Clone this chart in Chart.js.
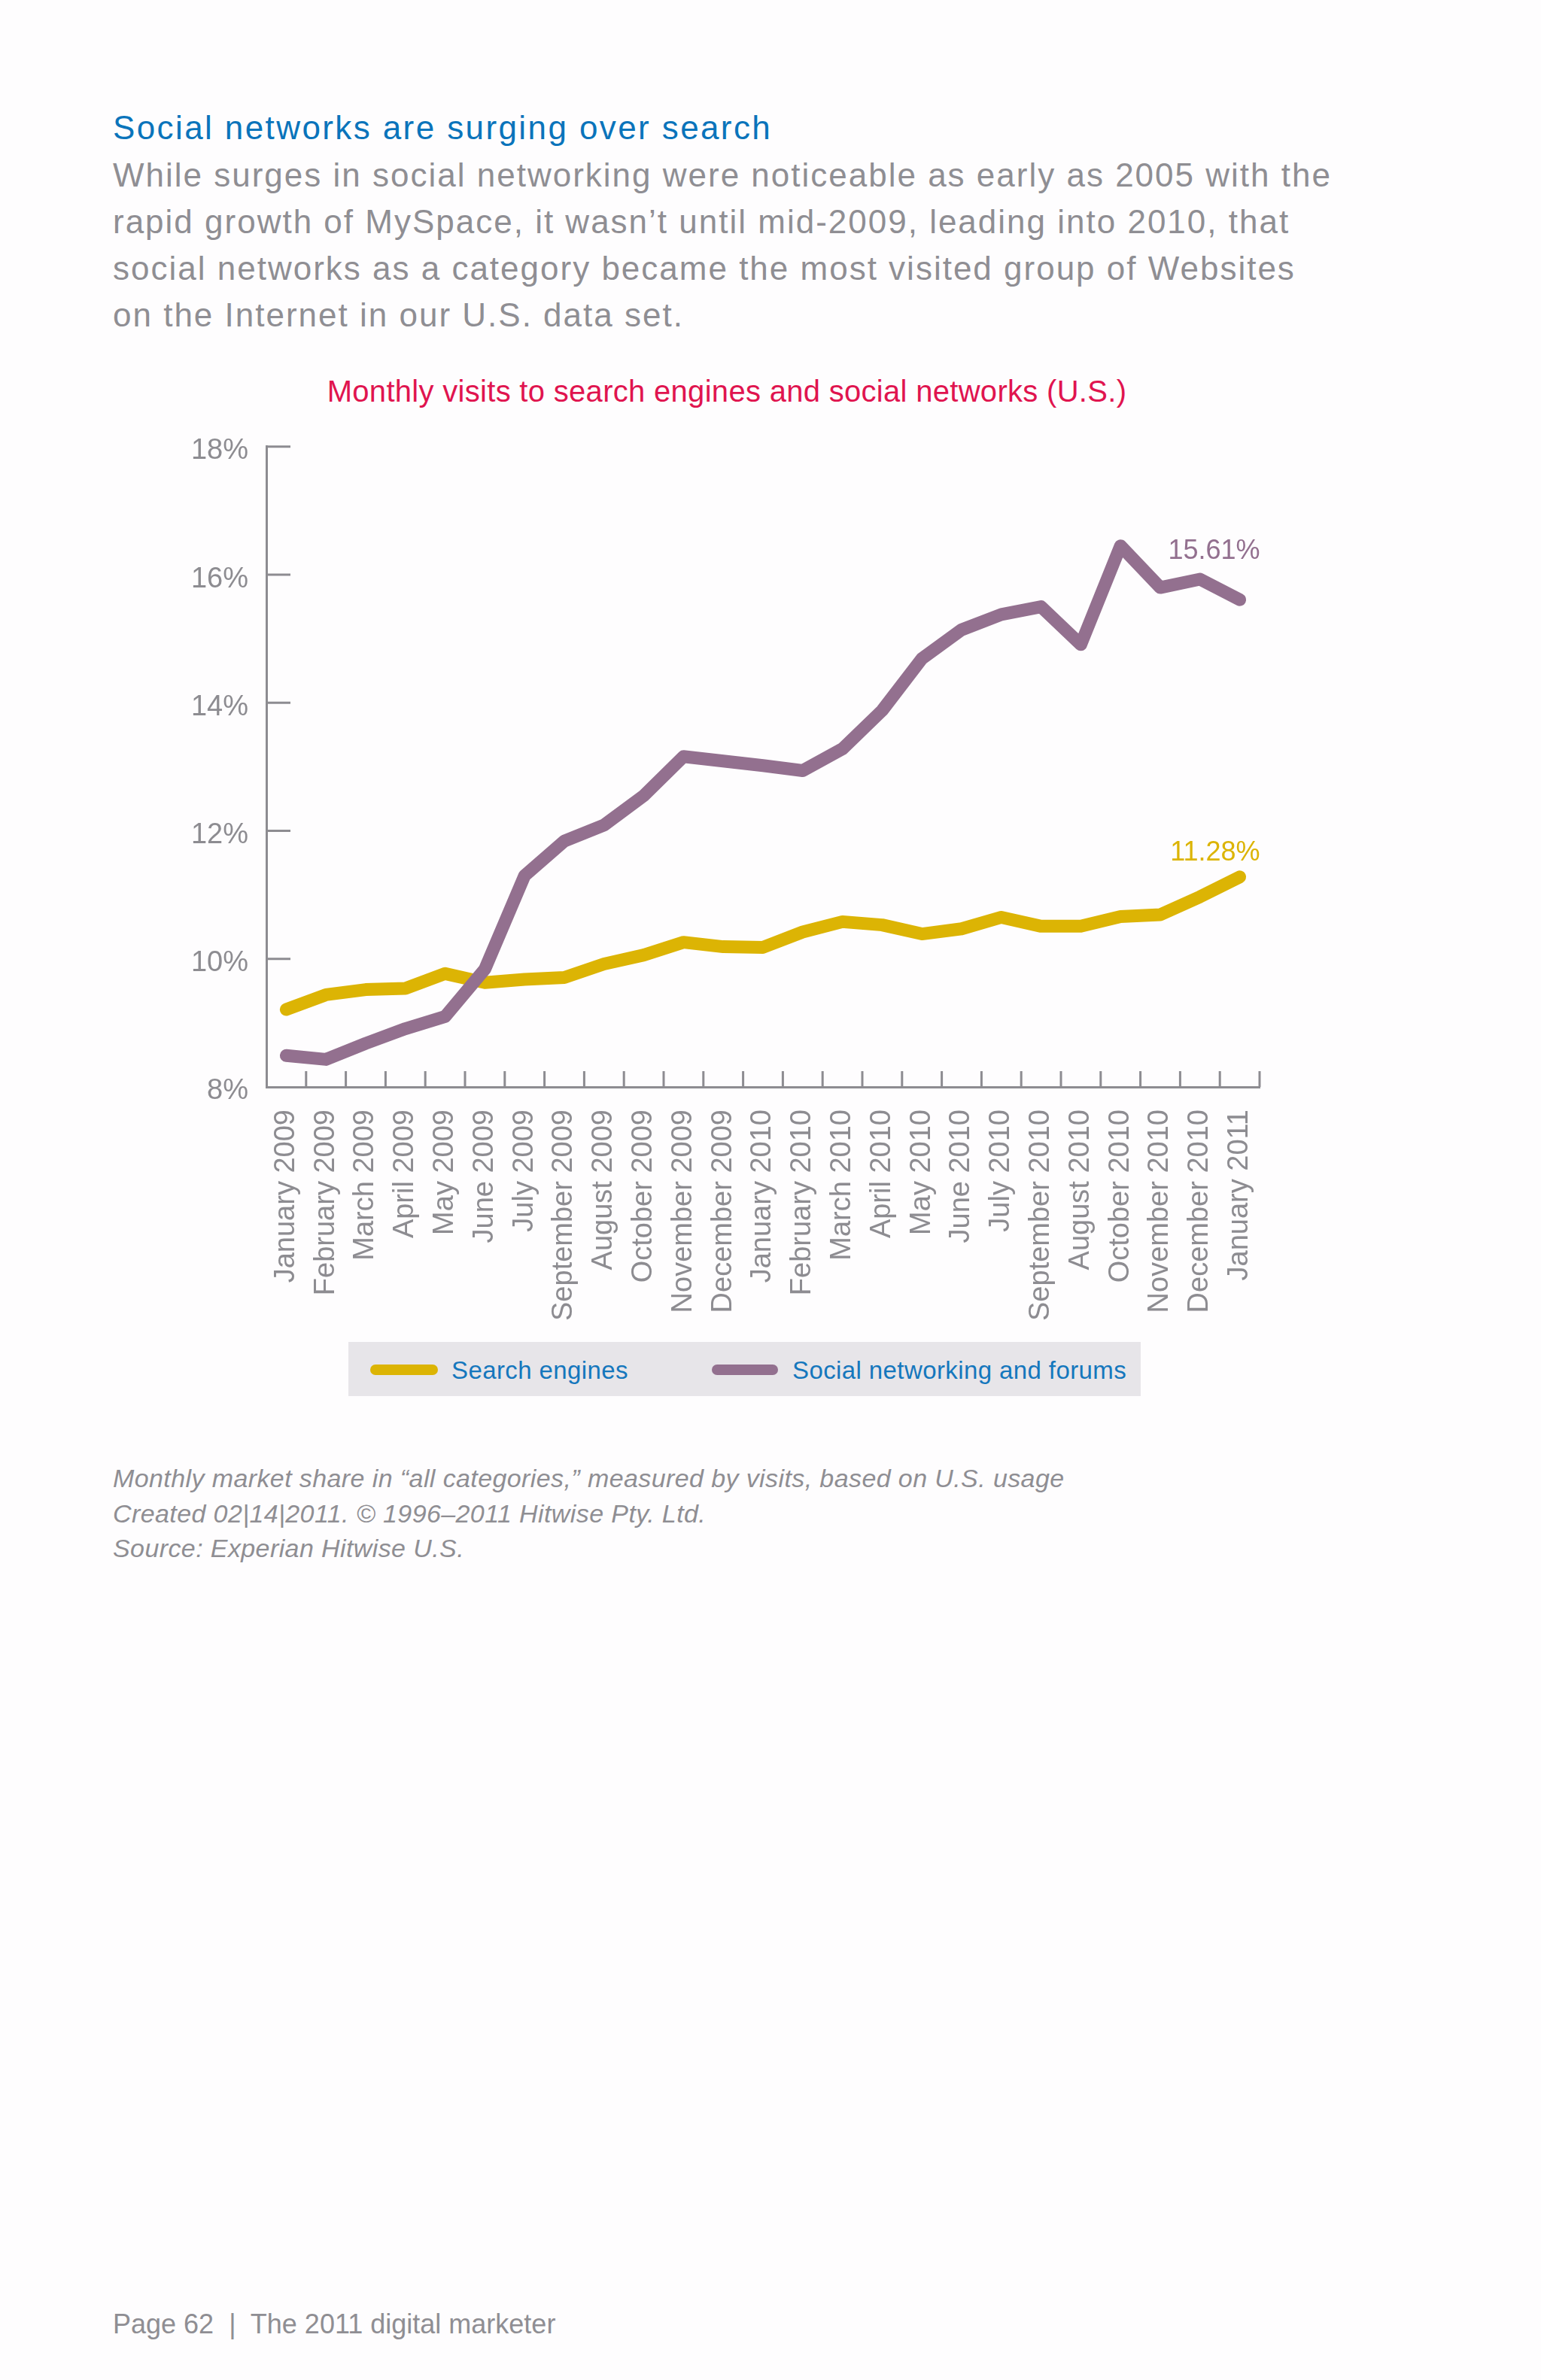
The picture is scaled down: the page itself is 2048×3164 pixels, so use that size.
<!DOCTYPE html>
<html lang="en">
<head>
    <meta charset="UTF-8">
    <title>Social networks are surging over search</title>
    <script src="https://cdn.jsdelivr.net/npm/chart.js"></script>
    <style>
        body {
            margin: 0;
            width: 2048px;
            height: 3164px;
            background-color: #fefdfe;
            font-family: "Liberation Sans", Arial, sans-serif;
            position: relative;
            overflow: hidden;
        }
        .heading {
            position: absolute;
            left: 150px;
            top: 146px;
            font-size: 44px;
            line-height: 48px;
            letter-spacing: 2.4px;
            color: #0a74bb;
            white-space: nowrap;
        }
        .intro {
            position: absolute;
            left: 150px;
            top: 202px;
            font-size: 44px;
            line-height: 62px;
            letter-spacing: 2px;
            color: #8f8e93;
            white-space: nowrap;
        }
        .chart-title {
            position: absolute;
            left: 0;
            width: 1932px;
            top: 496px;
            text-align: center;
            font-size: 40px;
            line-height: 48px;
            letter-spacing: 0.3px;
            color: #e0144f;
        }
        .chart-container {
            position: absolute;
            left: 240px;
            top: 547px;
            width: 1494px;
            height: 1213px;
        }
        .legend {
            position: absolute;
            left: 463px;
            top: 1784px;
            width: 1053px;
            height: 72px;
            background-color: #e7e5e9;
        }
        .legend .swatch {
            position: absolute;
            top: 30px;
            height: 14px;
            border-radius: 7px;
        }
        .legend .label {
            position: absolute;
            top: 20px;
            font-size: 33px;
            line-height: 36px;
            letter-spacing: 0.4px;
            color: #1577bd;
            white-space: nowrap;
        }
        .notes {
            position: absolute;
            left: 150px;
            top: 1942px;
            font-size: 34px;
            line-height: 46.5px;
            letter-spacing: 0.4px;
            font-style: italic;
            color: #8f8e93;
            white-space: nowrap;
        }
        .footer {
            position: absolute;
            left: 150px;
            top: 3070px;
            font-size: 36px;
            line-height: 40px;
            color: #8f8e93;
            white-space: pre;
        }
    </style>
</head>
<body>
    <div class="heading">Social networks are surging over search</div>
    <div class="intro">
        While surges in social networking were noticeable as early as 2005 with the<br>
        rapid growth of MySpace, it wasn’t until mid-2009, leading into 2010, that<br>
        social networks as a category became the most visited group of Websites<br>
        on the Internet in our U.S. data set.
    </div>

    <div class="chart-title">Monthly visits to search engines and social networks (U.S.)</div>

    <div class="chart-container">
        <canvas id="visitsChart"></canvas>
    </div>

    <div class="legend">
        <span class="swatch" style="left: 29px; width: 90px; background: #dcb404;"></span>
        <span class="label" style="left: 137px;">Search engines</span>
        <span class="swatch" style="left: 483px; width: 88px; background: #93708f;"></span>
        <span class="label" style="left: 590px;">Social networking and forums</span>
    </div>

    <div class="notes">
        Monthly market share in “all categories,” measured by visits, based on U.S. usage<br>
        Created 02|14|2011. © 1996–2011 Hitwise Pty. Ltd.<br>
        Source: Experian Hitwise U.S.
    </div>

    <div class="footer">Page 62  |  The 2011 digital marketer</div>

    <script>
        // month labels as printed in the source (September comes before August there)
        const months = [
            'January 2009', 'February 2009', 'March 2009', 'April 2009', 'May 2009',
            'June 2009', 'July 2009', 'September 2009', 'August 2009', 'October 2009',
            'November 2009', 'December 2009', 'January 2010', 'February 2010', 'March 2010',
            'April 2010', 'May 2010', 'June 2010', 'July 2010', 'September 2010',
            'August 2010', 'October 2010', 'November 2010', 'December 2010', 'January 2011'
        ];

        // market share, % of visits
        const searchEngines = [
            9.21, 9.44, 9.52, 9.54, 9.77, 9.63, 9.68, 9.71, 9.92, 10.06,
            10.26, 10.19, 10.18, 10.42, 10.58, 10.53, 10.39, 10.47, 10.65, 10.51,
            10.51, 10.66, 10.69, 10.97, 11.28
        ];
        const socialNetworks = [
            8.49, 8.43, 8.68, 8.91, 9.10, 9.84, 11.30, 11.84, 12.09, 12.55,
            13.16, 13.09, 13.02, 12.94, 13.28, 13.88, 14.69, 15.14, 15.38, 15.50,
            14.91, 16.45, 15.80, 15.93, 15.61
        ];

        const yTicks = [8, 10, 12, 14, 16, 18];

        const axisColor = '#8d8c91';
        const fontFamily = '"Liberation Sans", Arial, sans-serif';

        // short tick marks drawn inside the plot area
        const innerTicks = {
            id: 'innerTicks',
            beforeDatasetsDraw(chart) {
                const { ctx, scales: { x, y } } = chart;
                const step = x.getPixelForValue(1) - x.getPixelForValue(0);
                ctx.save();
                ctx.strokeStyle = axisColor;
                ctx.lineWidth = 3;
                ctx.beginPath();
                yTicks.slice(1).forEach(v => {
                    const py = y.getPixelForValue(v);
                    ctx.moveTo(x.left, py);
                    ctx.lineTo(x.left + 32, py);
                });
                months.forEach((m, i) => {
                    const px = x.getPixelForValue(i) + step / 2;
                    ctx.moveTo(px, y.bottom);
                    ctx.lineTo(px, y.bottom - 21);
                });
                ctx.stroke();
                ctx.restore();
            }
        };

        // value of the last point above the end of each line
        const endLabels = {
            id: 'endLabels',
            afterDatasetsDraw(chart) {
                const { ctx } = chart;
                ctx.save();
                ctx.font = '36px ' + fontFamily;
                ctx.textAlign = 'right';
                ctx.textBaseline = 'alphabetic';
                chart.data.datasets.forEach((ds, i) => {
                    const meta = chart.getDatasetMeta(i);
                    const last = meta.data.length - 1;
                    const pt = meta.data[last];
                    ctx.fillStyle = ds.borderColor;
                    ctx.fillText(ds.data[last].toFixed(2) + '%', pt.x + 27, pt.y + ds.labelDy);
                });
                ctx.restore();
            }
        };

        const ctx = document.getElementById('visitsChart').getContext('2d');

        new Chart(ctx, {
            type: 'line',
            data: {
                labels: months,
                datasets: [
                    {
                        label: 'Search engines',
                        data: searchEngines,
                        borderColor: '#dcb404',
                        borderWidth: 17,
                        borderCapStyle: 'round',
                        borderJoinStyle: 'round',
                        pointRadius: 0,
                        tension: 0,
                        order: 1,
                        labelDy: -22
                    },
                    {
                        label: 'Social networking and forums',
                        data: socialNetworks,
                        borderColor: '#93708f',
                        borderWidth: 17,
                        borderCapStyle: 'round',
                        borderJoinStyle: 'round',
                        pointRadius: 0,
                        tension: 0,
                        order: 0,
                        labelDy: -54
                    }
                ]
            },
            options: {
                responsive: true,
                maintainAspectRatio: false,
                animation: false,
                layout: { padding: { top: 19, right: 60, left: 0, bottom: 0 } },
                plugins: {
                    legend: { display: false },
                    title: { display: false },
                    tooltip: { enabled: false }
                },
                scales: {
                    x: {
                        offset: true,
                        grid: { drawOnChartArea: false, drawTicks: false },
                        border: { display: true, color: axisColor, width: 3 },
                        ticks: {
                            autoSkip: false,
                            minRotation: 90,
                            maxRotation: 90,
                            padding: 30,
                            color: axisColor,
                            font: { family: fontFamily, size: 38 }
                        },
                        afterFit(scale) { scale.height = 315; }
                    },
                    y: {
                        min: 8,
                        max: 18,
                        grid: { drawOnChartArea: false, drawTicks: false },
                        border: { display: true, color: axisColor, width: 3 },
                        ticks: {
                            stepSize: 2,
                            padding: 24,
                            labelOffset: 6,
                            color: axisColor,
                            font: { family: fontFamily, size: 38 },
                            callback: v => v + '%'
                        },
                        afterFit(scale) { scale.width = 114; }
                    }
                }
            },
            plugins: [innerTicks, endLabels]
        });
    </script>
</body>
</html>
